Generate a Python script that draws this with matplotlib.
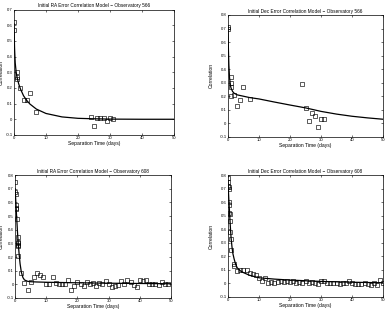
import matplotlib
matplotlib.use("Agg")
import matplotlib.pyplot as plt

plt.rcParams["font.family"] = ["Liberation Sans", "DejaVu Sans"]

# --- Observatory 566, RA ---
ra566_t = [0, 0, 1, 1, 1, 2, 3, 4, 5, 7, 24, 25, 26, 27, 28, 29, 30, 31]
ra566_c = [0.62, 0.57, 0.30, 0.27, 0.26, 0.20, 0.12, 0.12, 0.17, 0.045,
           0.015, -0.045, 0.005, 0.01, 0.005, -0.01, 0.005, 0.003]
ra566_mt = [0, 0.2, 0.4, 0.7, 1, 1.5, 2, 3, 4, 5, 7, 10, 15, 20, 25, 30, 40, 50]
ra566_mc = [0.61, 0.45, 0.36, 0.30, 0.265, 0.225, 0.195, 0.15, 0.12, 0.097,
            0.065, 0.037, 0.015, 0.006, 0.003, 0.001, 0.0, 0.0]

# --- Observatory 566, Dec ---
de566_t = [0, 0, 1, 1, 1, 1, 2, 3, 4, 5, 7, 24, 25, 26, 27, 28, 29, 30, 31]
de566_c = [0.70, 0.71, 0.34, 0.30, 0.27, 0.20, 0.21, 0.13, 0.17, 0.27, 0.18,
           0.29, 0.11, 0.02, 0.075, 0.055, -0.03, 0.035, 0.03]
de566_mt = [0, 0.15, 0.3, 0.5, 0.8, 1, 1.5, 2, 3, 5, 7, 10, 15, 20, 25, 30,
            35, 40, 45, 50]
de566_mc = [0.72, 0.55, 0.43, 0.34, 0.28, 0.26, 0.235, 0.222, 0.21, 0.2,
            0.19, 0.18, 0.157, 0.135, 0.114, 0.088, 0.068, 0.052, 0.04, 0.03]

# --- Observatory 608, RA ---
ra608_t = [0, 0, 0.2, 0.2, 0.3, 0.4, 0.5, 1, 1, 1, 1, 1, 1, 2, 3, 4, 5, 6, 7,
           8, 9, 10, 11, 12, 13, 14, 15, 16, 17, 18, 19, 20, 21, 22, 23, 24,
           25, 26, 27, 28, 29, 30, 31, 32, 33, 34, 35, 36, 37, 38, 39, 40, 41,
           42, 43, 44, 45, 46, 47, 48, 49]
ra608_c = [0.75, 0.68, 0.66, 0.58, 0.56, 0.55, 0.48, 0.35, 0.31, 0.30, 0.29,
           0.28, 0.21, 0.08, 0.01, -0.04, 0.015, 0.05, 0.08, 0.065, 0.05, 0.0,
           0.0, 0.05, 0.01, 0.0, 0.005, 0.005, 0.03, -0.04, -0.01, 0.015, 0.0,
           -0.01, 0.015, 0.0, 0.01, -0.01, 0.01, 0.0, 0.025, 0.0, -0.02,
           -0.015, -0.005, 0.025, 0.0, 0.035, 0.015, -0.005, -0.02, 0.03,
           0.025, 0.03, 0.005, 0.0, 0.0, -0.005, 0.015, 0.005, 0.0]
ra608_mt = [0, 0.2, 0.4, 0.6, 0.8, 1, 1.3, 1.6, 2, 2.5, 3, 4, 5, 7, 10, 20,
            30, 40, 50]
ra608_mc = [0.70, 0.62, 0.53, 0.45, 0.37, 0.30, 0.22, 0.15, 0.09, 0.05, 0.032,
            0.022, 0.019, 0.017, 0.015, 0.011, 0.008, 0.006, 0.004]

# --- Observatory 608, Dec ---
de608_t = [0, 0, 0.1, 0.2, 0.2, 0.3, 0.3, 0.5, 0.6, 0.7, 0.8, 0.9, 1, 2, 2,
           3, 4, 5, 6, 7, 8, 9, 10, 11, 12, 13, 14, 15, 16, 17, 18, 19, 20,
           21, 22, 23, 24, 25, 26, 27, 28, 29, 30, 31, 32, 33, 34, 35, 36, 37,
           38, 39, 40, 41, 42, 43, 44, 45, 46, 47, 48, 49, 50]
de608_c = [0.78, 0.75, 0.72, 0.71, 0.70, 0.60, 0.58, 0.52, 0.51, 0.46, 0.38,
           0.33, 0.25, 0.14, 0.13, 0.09, 0.1, 0.1, 0.1, 0.08, 0.07, 0.06, 0.04,
           0.02, 0.04, 0.005, 0.01, 0.0, 0.01, 0.02, 0.01, 0.02, 0.01, 0.015,
           0.005, 0.01, 0.005, 0.015, 0.005, 0.01, 0.005, -0.005, 0.02, 0.02,
           0.005, 0.005, 0.0, 0.0, -0.005, 0.0, 0.0, 0.02, 0.005, -0.005,
           -0.005, -0.005, 0.0, -0.005, -0.015, 0.005, -0.01, 0.025, 0.0]
de608_mt = [0, 0.2, 0.4, 0.6, 0.8, 1, 1.3, 1.6, 2, 2.5, 3, 4, 5, 7, 10, 15,
            20, 30, 40, 50]
de608_mc = [0.76, 0.66, 0.57, 0.49, 0.41, 0.34, 0.27, 0.22, 0.18, 0.14, 0.115,
            0.093, 0.08, 0.06, 0.042, 0.032, 0.025, 0.015, 0.009, 0.005]

panels = [
    dict(pos=[0.036, 0.577, 0.414, 0.393], t=ra566_t, c=ra566_c, mt=ra566_mt,
         mc=ra566_mc, ymax=0.7, ylx=-0.062,
         title="Initial RA Error Correlation Model \u2212 Observatory 566"),
    dict(pos=[0.589, 0.571, 0.401, 0.382], t=de566_t, c=de566_c, mt=de566_mt,
         mc=de566_mc, ymax=0.8, ylx=-0.09,
         title="Initial Dec Error Correlation Model \u2212 Observatory 566"),
    dict(pos=[0.039, 0.066, 0.403, 0.385], t=ra608_t, c=ra608_c, mt=ra608_mt,
         mc=ra608_mc, ymax=0.8, ylx=-0.072,
         title="Initial RA Error Correlation Model \u2212 Observatory 608"),
    dict(pos=[0.589, 0.069, 0.401, 0.382], t=de608_t, c=de608_c, mt=de608_mt,
         mc=de608_mc, ymax=0.8, ylx=-0.09,
         title="Initial Dec Error Correlation Model \u2212 Observatory 608"),
]

fig = plt.figure(figsize=(3.87, 3.19), dpi=100)
for p in panels:
    ax = fig.add_axes(p["pos"])
    ax.plot(p["t"], p["c"], "s", ms=2.5, mfc="none", mec="black", mew=0.45)
    ax.plot(p["mt"], p["mc"], "-", color="black", lw=0.9)
    ax.set_xlim(0, 50)
    ax.set_ylim(-0.1, p["ymax"])
    ax.set_xticks(range(0, 51, 10))
    yt = [round(-0.1 + 0.1 * i, 1) for i in range(int(round(p["ymax"] * 10)) + 2)]
    ax.set_yticks(yt)
    ax.set_yticklabels(["0" if v == 0 else f"{v:g}" for v in yt])
    ax.tick_params(direction="in", length=1.5, width=0.4, labelsize=3.1,
                   pad=1, top=True, right=True)
    for s in ax.spines.values():
        s.set_linewidth(0.5)
    ax.set_title(p["title"], fontsize=3.4, pad=1.5)
    ax.set_xlabel("Separation Time (days)", fontsize=3.6, labelpad=0.5)
    ax.set_ylabel("Correlation", fontsize=3.6)
    ax.yaxis.set_label_coords(p["ylx"], 0.5)

fig.savefig("out.png", dpi=100)
